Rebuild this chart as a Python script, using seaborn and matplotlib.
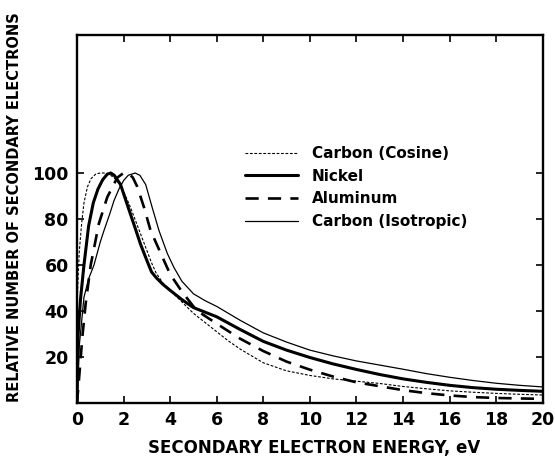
import matplotlib
matplotlib.use("Agg")
import matplotlib.pyplot as plt
import seaborn as sns
import pandas as pd

sns.set_theme(style="white")
plt.rcParams['font.family'] = ['DejaVu Sans']
plt.rcParams['text.color'] = 'black'
plt.rcParams['axes.labelcolor'] = 'black'
plt.rcParams['xtick.color'] = 'black'
plt.rcParams['ytick.color'] = 'black'

# ---- data ----
cosine_e = [0, 0.05, 0.1, 0.2, 0.3, 0.45, 0.6, 0.8, 1.0, 1.2, 1.45, 1.7, 2.0, 2.3, 2.6, 2.9,
            3.2, 3.4, 3.7, 4.0, 4.5, 5.0, 5.5, 6.0, 6.5, 7.0, 7.5, 8.0, 9.0, 10, 11, 12, 13,
            14, 15, 16, 17, 18, 19, 20]
cosine_v = [40, 55, 66, 78, 87, 94, 97.5, 99.5, 100, 100, 99, 97, 92, 85, 77, 69,
            61, 56.5, 52, 49, 44, 39, 35, 31, 27, 23.5, 20.5, 17.5, 14, 12, 10.5, 9.5, 8.5,
            7.2, 6.2, 5.3, 4.7, 4.2, 3.8, 3.5]

nickel_e = [0, 0.05, 0.15, 0.3, 0.5, 0.7, 0.9, 1.1, 1.3, 1.45, 1.6, 1.87, 2.1, 2.3, 2.5,
            2.73, 3.0, 3.2, 3.4, 3.7, 4.0, 4.5, 5.0, 5.5, 6.0, 7.0, 8.0, 9.0, 10, 11, 12,
            13, 14, 15, 16, 17, 18, 19, 20]
nickel_v = [0, 30, 45, 60, 77, 87, 93, 97, 99.5, 100, 99, 95, 88, 82, 76,
            69, 62, 57, 54.5, 51.5, 49, 45, 41.5, 39.5, 37.5, 32, 26.8, 23, 19.8, 17, 14.6,
            12.4, 10.5, 9, 7.7, 6.7, 6, 5.5, 5.1]

aluminum_e = [0, 0.1, 0.23, 0.37, 0.59, 0.94, 1.3, 1.73, 2.0, 2.2, 2.4, 2.59, 2.88, 3.16,
              3.6, 4.0, 4.5, 5.0, 5.4, 6.0, 7.0, 8.0, 9.0, 10, 11, 12, 13, 14, 15, 16, 17,
              18, 19, 20]
aluminum_v = [0, 12, 28.6, 43, 60, 78, 89.5, 98, 100, 100, 98, 94, 85, 75,
              65, 56, 48.5, 42, 38.5, 34.5, 28, 22.6, 18, 14.5, 11.5, 9, 7.3, 5.6, 4.3, 3.3,
              2.6, 2.2, 2.0, 1.8]

isotropic_e = [0, 0.1, 0.3, 0.5, 0.73, 1.0, 1.16, 1.4, 1.59, 1.8, 2.0, 2.2, 2.5, 2.7, 2.95,
               3.23, 3.52, 3.88, 4.16, 4.5, 5.0, 5.5, 6.0, 7.0, 8.0, 9.0, 10, 11, 12, 13,
               14, 15, 16, 17, 18, 19, 20]
isotropic_v = [0, 25, 46, 54, 60, 70, 75, 82, 88, 93, 96.7, 99, 100, 99, 95,
               85, 75, 65, 59, 53, 47.5, 44.5, 42, 36, 30.5, 26.5, 23, 20.5, 18.3, 16.5,
               14.7, 12.8, 11.2, 9.8, 8.6, 7.7, 7]

series_names = ["Carbon (Cosine)", "Nickel", "Aluminum", "Carbon (Isotropic)"]
x_ticks = list(range(0, 21, 2))
y_ticks = [20, 40, 60, 80, 100]

frames = []
for name, e, v in zip(series_names,
                      [cosine_e, nickel_e, aluminum_e, isotropic_e],
                      [cosine_v, nickel_v, aluminum_v, isotropic_v]):
    frames.append(pd.DataFrame({"energy": e, "value": v, "series": name}))
df = pd.concat(frames, ignore_index=True)

styles = {
    "Carbon (Cosine)": dict(lw=0.8, dashes=(2.5, 1.5)),
    "Nickel": dict(lw=2.2, dashes=None),
    "Aluminum": dict(lw=1.9, dashes=(5, 3.5)),
    "Carbon (Isotropic)": dict(lw=0.9, dashes=None),
}

fig = plt.figure(figsize=(5.55, 4.58), dpi=100)
ax = fig.add_axes([0.1387, 0.120, 0.8393, 0.8036])

for name in series_names:
    sub = df[df["series"] == name]
    st = styles[name]
    sns.lineplot(data=sub, x="energy", y="value", ax=ax, color="black",
                 linewidth=st["lw"], label=name, sort=False, estimator=None)
    line = ax.lines[-1]
    line.set_solid_joinstyle("round")
    if st["dashes"] is not None:
        line.set_dashes(st["dashes"])

ax.set_xlim(0, 20)
ax.set_ylim(0, 160)
ax.set_xticks(x_ticks)
ax.set_xticklabels([str(t) for t in x_ticks], fontsize=12.5, fontweight="bold")
ax.set_yticks(y_ticks)
ax.set_yticklabels([str(t) for t in y_ticks], fontsize=12.5, fontweight="bold")
ax.tick_params(direction="in", length=5, width=1.2, color="black",
               labelcolor="black",
               top=True, right=True, bottom=True, left=True, pad=6)

for sp in ax.spines.values():
    sp.set_visible(True)
    sp.set_color("black")
    sp.set_linewidth(1.7)

ax.set_xlabel("SECONDARY ELECTRON ENERGY, eV", fontsize=12, fontweight="bold",
              color="black")
ax.xaxis.set_label_coords(0.51, -0.098)
ax.set_ylabel("RELATIVE NUMBER OF SECONDARY ELECTRONS", fontsize=10.5,
              fontweight="bold", color="black")
ax.yaxis.set_label_coords(-0.118, 0.533)

leg = ax.legend(loc="upper left", bbox_to_anchor=(0.347, 0.715), frameon=False,
                fontsize=11, handlelength=3.5, handletextpad=0.9,
                labelspacing=0.5, borderaxespad=0)
for t in leg.get_texts():
    t.set_fontweight("bold")
    t.set_color("black")
for h in leg.get_lines():
    h.set_color("black")

fig.savefig("out.png", dpi=100, facecolor="white")
